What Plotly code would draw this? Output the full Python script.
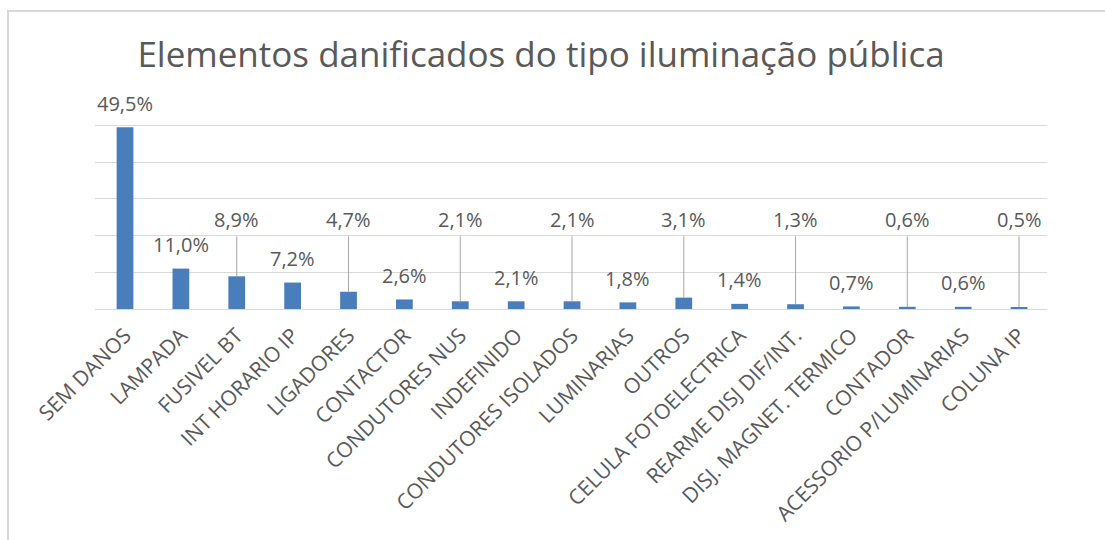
import plotly.graph_objects as go

# Categories of damaged public-lighting elements and their share (%)
categories = [
    "SEM DANOS", "LAMPADA", "FUSIVEL BT", "INT HORARIO IP", "LIGADORES",
    "CONTACTOR", "CONDUTORES NUS", "INDEFINIDO", "CONDUTORES ISOLADOS",
    "LUMINARIAS", "OUTROS", "CELULA FOTOELECTRICA", "REARME DISJ DIF/INT.",
    "DISJ. MAGNET. TERMICO", "CONTADOR", "ACESSORIO P/LUMINARIAS", "COLUNA IP",
]
percent = [49.5, 11.0, 8.9, 7.2, 4.7, 2.6, 2.1, 2.1, 2.1, 1.8, 3.1, 1.4, 1.3,
           0.7, 0.6, 0.6, 0.5]

title_text = "Elementos danificados do tipo iluminação pública"

FONT = "Open Sans, Segoe UI, sans-serif"
TEXT_GREY = "#595959"
GRID_GREY = "#d9d9d9"
BAR_BLUE = "#4a7ebb"

W, H = 1105, 540
Y_MAX = 52
L, R, T, B = 95, 58, 118, 231
plot_w = W - L - R
plot_h = H - T - B


def fmt(v):
    return f"{v:.1f}%".replace(".", ",")


fig = go.Figure(
    go.Bar(
        x=categories,
        y=percent,
        marker=dict(color=BAR_BLUE, line=dict(width=0)),
        hoverinfo="x+y",
    )
)

# Value labels: every other label is lifted to a common height and tied
# back to its bar with a thin leader line.
lifted_level = 24.4
label_font = dict(family=FONT, size=20, color=TEXT_GREY)
annotations = []
for i, (cat, val) in enumerate(zip(categories, percent)):
    if i % 2 == 0 and i > 0:
        annotations.append(dict(
            x=cat, y=val, xref="x", yref="y",
            text=fmt(val), showarrow=True, arrowhead=0, arrowwidth=1,
            arrowcolor="#a6a6a6", ax=0, ay=lifted_level, ayref="y",
            startstandoff=2, standoff=0, font=label_font,
        ))
    else:
        annotations.append(dict(
            x=cat, y=val, xref="x", yref="y",
            text=fmt(val), showarrow=False, yanchor="middle", yshift=24,
            font=label_font,
        ))

# Chart frame (left and top edges)
px = lambda x: (x - L) / plot_w
py = lambda y: (H - B - y) / plot_h
frame = dict(
    type="path", xref="paper", yref="paper",
    path=f"M {px(8)} {py(545)} L {px(8)} {py(11)} L {px(1110)} {py(11)}",
    line=dict(color=GRID_GREY, width=2),
)

fig.update_layout(
    width=W, height=H,
    margin=dict(l=L, r=R, t=T, b=B),
    paper_bgcolor="white", plot_bgcolor="white",
    bargap=0.7,
    showlegend=False,
    title=dict(
        text=title_text, x=541 / W, y=1 - 55 / H,
        xref="container", yref="container",
        xanchor="center", yanchor="middle",
        font=dict(family=FONT, size=35, color=TEXT_GREY),
    ),
    xaxis=dict(
        tickangle=-45,
        tickfont=dict(family=FONT, size=21, color=TEXT_GREY),
        ticklabelstandoff=5,
        showline=True, linecolor=GRID_GREY, linewidth=1,
        ticks="", showgrid=False,
    ),
    yaxis=dict(
        range=[0, Y_MAX], tickvals=[10, 20, 30, 40, 50], showticklabels=False,
        showgrid=True, gridcolor=GRID_GREY, gridwidth=1,
        zeroline=False, showline=False, ticks="",
    ),
    annotations=annotations,
    shapes=[frame],
)

fig.write_html("out.html")
